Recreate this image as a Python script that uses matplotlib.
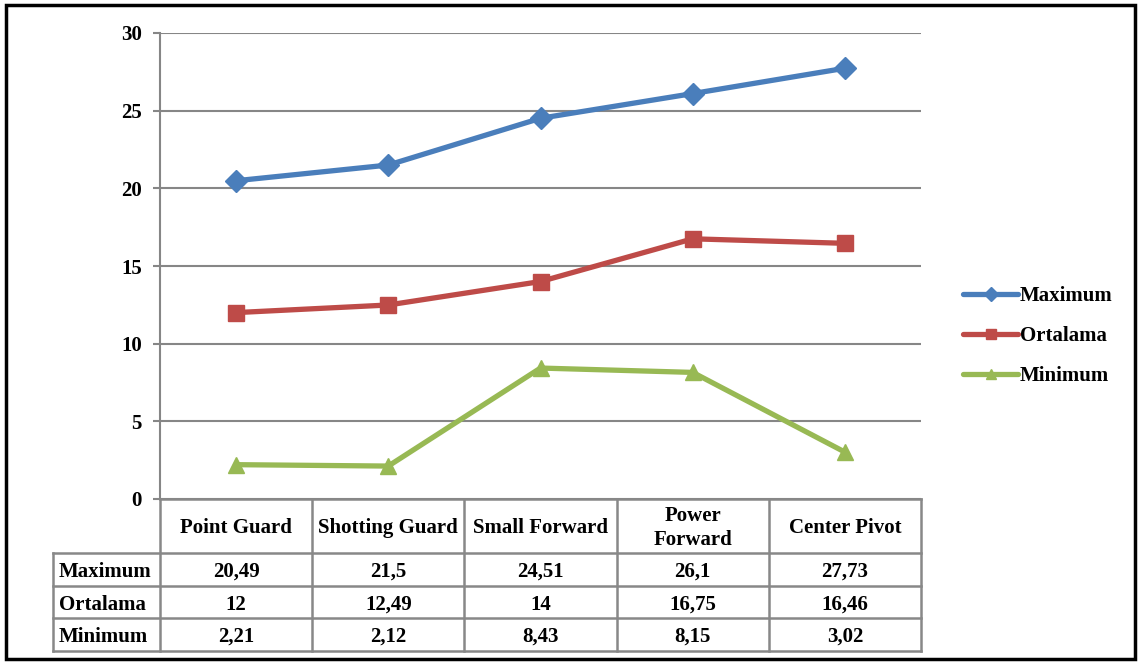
import matplotlib.pyplot as plt
import matplotlib.transforms as mtransforms
from matplotlib.patches import Rectangle

# data
positions = ['Point Guard', 'Shotting Guard', 'Small Forward', 'Power\nForward', 'Center Pivot']
maximum = [20.49, 21.5, 24.51, 26.1, 27.73]
ortalama = [12, 12.49, 14, 16.75, 16.46]
minimum = [2.21, 2.12, 8.43, 8.15, 3.02]
series_names = ['Maximum', 'Ortalama', 'Minimum']
yticks = [0, 5, 10, 15, 20, 25, 30]

colors = ['#4A7EBB', '#BE4B48', '#98B954']
markers = ['D', 's', '^']
font = 'Liberation Serif'
fs = 15
grid_c = '#888888'

plt.rcParams['font.family'] = [font, 'DejaVu Serif']
plt.rcParams['font.weight'] = 'bold'

fig = plt.figure(figsize=(11.41, 6.64), dpi=100)
ax = fig.add_axes([160 / 1141, 1 - 499 / 664, 761 / 1141, 466 / 664])

x = list(range(len(positions)))
series = [maximum, ortalama, minimum]
for vals, name, c, m in zip(series, series_names, colors, markers):
    ax.plot(x, vals, color=c, lw=3.8, marker=m, ms=12 if m != 'D' else 11,
            label=name, solid_capstyle='round')

ax.set_xlim(-0.5, len(positions) - 0.5)
ax.set_ylim(0, 30)
ax.set_yticks(yticks)
ax.set_yticklabels([str(v) for v in yticks], fontsize=fs, fontweight='bold')
ax.set_xticks([])
ax.grid(axis='y', color='#868686', lw=1.5)
ax.set_axisbelow(True)
ax.tick_params(axis='y', length=5, width=1.5, color='#868686', pad=8)
for s in ['top', 'right', 'bottom']:
    ax.spines[s].set_visible(False)
ax.spines['left'].set_color('#868686')
ax.spines['left'].set_linewidth(1.5)

# data table drawn under the plot: x in category units, y in axes fraction
tr = mtransforms.blended_transform_factory(ax.transData, ax.transAxes)
def ya(py):
    return (499 - py) / 466

n = len(positions)
xl = -0.5 - 107 / 152.2
row_edges = [553, 586, 618, 651]
line_kw = dict(color=grid_c, lw=1.8, transform=tr, clip_on=False)
ax.plot([-0.5, n - 0.5], [ya(499)] * 2, **line_kw)
for py in row_edges:
    ax.plot([xl, n - 0.5], [ya(py)] * 2, **line_kw)
ax.plot([xl, xl], [ya(553), ya(651)], **line_kw)
for i in range(n + 1):
    ax.plot([i - 0.5] * 2, [ya(499), ya(651)], **line_kw)

for i, lab in enumerate(positions):
    ax.text(i, ya(528), lab, transform=tr, ha='center', va='center',
            fontsize=fs, fontweight='bold', linespacing=1.3)
for r, (name, vals) in enumerate(zip(series_names, series)):
    yc = ya((row_edges[r] + row_edges[r + 1]) / 2 + 2.5)
    ax.text(xl + 6 / 152.2, yc, name, transform=tr, ha='left', va='center',
            fontsize=fs, fontweight='bold')
    for i, v in enumerate(vals):
        ax.text(i, yc, ('%g' % v).replace('.', ','), transform=tr,
                ha='center', va='center', fontsize=fs, fontweight='bold')

leg = fig.legend(loc='center left', bbox_to_anchor=(953 / 1141, 1 - 336 / 664),
                 frameon=False, handlelength=2.6, handletextpad=0.1,
                 labelspacing=0.95, borderpad=0, markerscale=0.65,
                 prop={'family': font, 'weight': 'bold', 'size': fs})

# outer frame
fig.patches.append(Rectangle((6 / 1141, 5 / 664), 1129 / 1141, 654 / 664,
                             transform=fig.transFigure, fill=False,
                             edgecolor='black', lw=2.5))

fig.savefig('out.png', dpi=100)
